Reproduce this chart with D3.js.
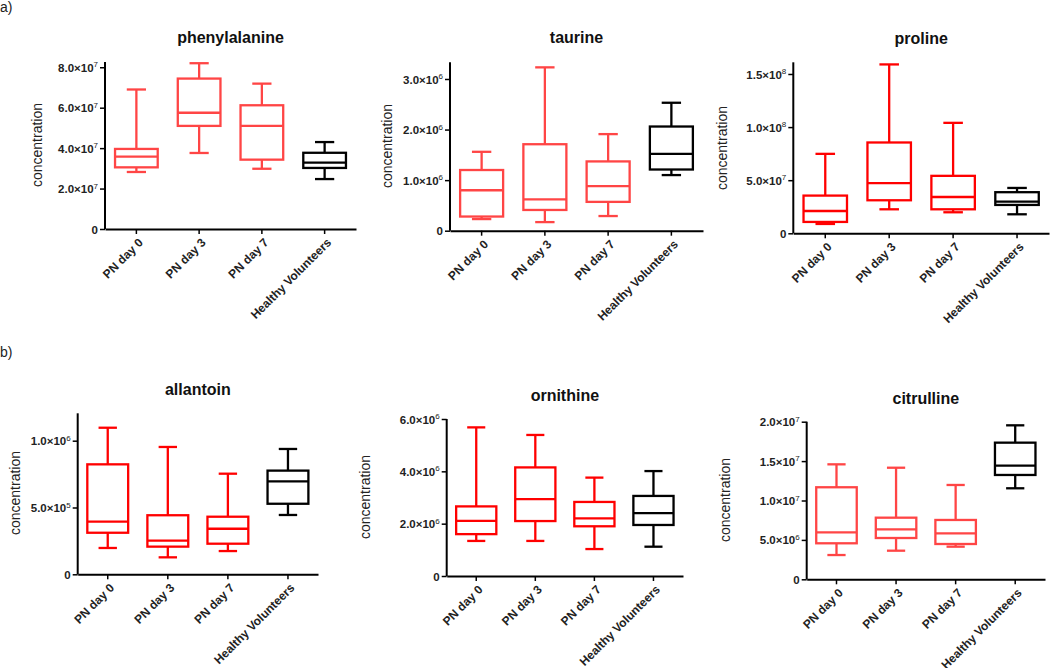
<!DOCTYPE html>
<html>
<head>
<meta charset="utf-8">
<script src="https://cdn.jsdelivr.net/npm/d3@7"></script>
<style>
  body { margin: 0; background: #fff; }
  svg text { font-family: "Liberation Sans", Arial, sans-serif; }
</style>
</head>
<body>
<svg id="chart" width="1050" height="668"></svg>
<script>
// groups on the x axis
var categories = ["PN day 0", "PN day 3", "PN day 7", "Healthy Volunteers"];

// each row: [min, q1, median, q3, max]
var phenylalanine = [
  [2.82e7, 3.05e7, 3.58e7, 3.96e7, 6.90e7],
  [3.76e7, 5.10e7, 5.75e7, 7.44e7, 8.20e7],
  [2.98e7, 3.43e7, 5.10e7, 6.12e7, 7.19e7],
  [2.47e7, 3.02e7, 3.28e7, 3.77e7, 4.30e7]
];
var taurine = [
  [0.23e6, 0.28e6, 0.80e6, 1.20e6, 1.56e6],
  [0.17e6, 0.41e6, 0.62e6, 1.71e6, 3.23e6],
  [0.29e6, 0.57e6, 0.88e6, 1.37e6, 1.91e6],
  [1.10e6, 1.21e6, 1.52e6, 2.06e6, 2.53e6]
];
var proline = [
  [0.88e7, 1.07e7, 2.10e7, 3.55e7, 7.48e7],
  [2.26e7, 3.11e7, 4.72e7, 8.55e7, 15.9e7],
  [1.98e7, 2.26e7, 3.42e7, 5.41e7, 10.4e7],
  [1.79e7, 2.67e7, 2.98e7, 3.87e7, 4.27e7]
];
var allantoin = [
  [1.97e5, 3.11e5, 3.94e5, 8.23e5, 10.97e5],
  [1.27e5, 2.07e5, 2.52e5, 4.42e5, 9.53e5],
  [1.74e5, 2.29e5, 3.41e5, 4.31e5, 7.53e5],
  [4.44e5, 5.28e5, 6.96e5, 7.76e5, 9.38e5]
];
var ornithine = [
  [1.34e6, 1.60e6, 2.11e6, 2.66e6, 5.68e6],
  [1.34e6, 2.10e6, 2.94e6, 4.15e6, 5.39e6],
  [1.03e6, 1.90e6, 2.20e6, 2.83e6, 3.76e6],
  [1.12e6, 1.95e6, 2.40e6, 3.06e6, 4.01e6]
];
var citrulline = [
  [3.08e6, 4.57e6, 5.96e6, 11.68e6, 14.59e6],
  [3.63e6, 5.24e6, 6.34e6, 7.82e6, 14.16e6],
  [4.14e6, 4.48e6, 5.84e6, 7.53e6, 11.97e6],
  [11.55e6, 13.24e6, 14.42e6, 17.34e6, 19.54e6]
];

// y tick values per panel
var phenylalanineTicks = [0, 2e7, 4e7, 6e7, 8e7];
var taurineTicks = [0, 1e6, 2e6, 3e6];
var prolineTicks = [0, 5e7, 1e8, 1.5e8];
var allantoinTicks = [0, 5e5, 1e6];
var ornithineTicks = [0, 2e6, 4e6, 6e6];
var citrullineTicks = [0, 5e6, 1e7, 1.5e7, 2e7];

var light = "#ff4545", pure = "#ff0000";

// panel layout (pixels)
var panels = [
  {title: "phenylalanine", data: phenylalanine, ticks: phenylalanineTicks, yMax: 8.26e7,
   x0: 105, x1: 356, yb: 229, yt: 62, titleY: 43, labX: 37, labY: 145, color: light},
  {title: "taurine", data: taurine, ticks: taurineTicks, yMax: 3.33e6,
   x0: 450, x1: 703, yb: 230.7, yt: 62.3, titleY: 43, labX: 387, labY: 146, color: light},
  {title: "proline", data: proline, ticks: prolineTicks, yMax: 1.61e8,
   x0: 793.3, x1: 1049, yb: 233.3, yt: 62.3, titleY: 44, labX: 722, labY: 148, color: pure},
  {title: "allantoin", data: allantoin, ticks: allantoinTicks, yMax: 1.205e6,
   x0: 77.7, x1: 318, yb: 574.3, yt: 413.3, titleY: 395, labX: 15, labY: 493, color: pure},
  {title: "ornithine", data: ornithine, ticks: ornithineTicks, yMax: 6e6,
   x0: 446.7, x1: 683, yb: 576, yt: 419, titleY: 401, labX: 365, labY: 497, color: pure},
  {title: "citrulline", data: citrulline, ticks: citrullineTicks, yMax: 2e7,
   x0: 806.7, x1: 1045, yb: 579.3, yt: 421.7, titleY: 404, labX: 725, labY: 500, color: light}
];

var svg = d3.select("#chart");

svg.append("text").attr("x", 0).attr("y", 12)
  .style("font-size", "14px").style("fill", "#222").text("a)");
svg.append("text").attr("x", 0).attr("y", 357)
  .style("font-size", "14px").style("fill", "#222").text("b)");

function tickText(sel, v) {
  if (v === 0) { sel.text("0"); return; }
  var e = Math.floor(Math.log10(v) + 1e-9);
  var m = v / Math.pow(10, e);
  sel.append("tspan").text(m.toFixed(1) + "\u00d710");
  sel.append("tspan").attr("dy", "-0.55em").style("font-size", "8px")
    .style("font-weight", "normal").text(e);
}

function drawPanel(p) {
  var g = svg.append("g");

  var x = d3.scaleBand()
    .domain(categories)
    .range([p.x0, p.x1])
    .paddingInner(0.32)
    .paddingOuter(0.16);

  var y = d3.scaleLinear()
    .domain([0, p.yMax])
    .range([p.yb, p.yt]);

  // title
  g.append("text")
    .attr("x", (p.x0 + p.x1) / 2)
    .attr("y", p.titleY)
    .attr("text-anchor", "middle")
    .style("font-size", "16px")
    .style("font-weight", "bold")
    .style("fill", "#111")
    .text(p.title);

  // y label
  g.append("text")
    .attr("transform", "translate(" + (p.labX + 5) + "," + p.labY + ") rotate(-90)")
    .attr("text-anchor", "middle")
    .style("font-size", "14px")
    .style("fill", "#222")
    .text("concentration");

  // y axis
  var yAxis = g.append("g")
    .attr("transform", "translate(" + p.x0 + ",0)")
    .call(d3.axisLeft(y).tickValues(p.ticks).tickSize(5).tickSizeOuter(0).tickFormat(""));
  yAxis.select(".domain").attr("stroke-width", 2).attr("d", "M0," + p.yb + "V" + p.yt);
  yAxis.selectAll(".tick line").attr("stroke-width", 1.5);
  yAxis.selectAll(".tick").append("text")
    .attr("x", -7).attr("dy", "0.35em")
    .attr("text-anchor", "end")
    .style("font-size", "11.5px")
    .style("font-weight", "bold")
    .style("fill", "#222")
    .each(function(d) { tickText(d3.select(this), d); });

  // x axis
  var xAxis = g.append("g")
    .attr("transform", "translate(0," + p.yb + ")")
    .call(d3.axisBottom(x).tickSize(5).tickSizeOuter(0));
  xAxis.select(".domain").attr("stroke-width", 2);
  xAxis.selectAll(".tick line").attr("stroke-width", 1.5);
  xAxis.selectAll(".tick text")
    .attr("text-anchor", "end")
    .attr("transform", "translate(-2,5) rotate(-45)")
    .attr("x", 0).attr("y", 9).attr("dy", "0.35em")
    .style("font-size", "12px")
    .style("font-weight", "bold")
    .style("fill", "#222")
    .style("font-family", "'Liberation Sans', Arial, sans-serif");

  // boxes
  var bw = x.bandwidth();
  var capW = bw * 0.45;
  var boxes = g.selectAll(".box")
    .data(p.data)
    .enter().append("g")
    .attr("class", "box")
    .attr("fill", "none")
    .attr("stroke-width", 2.3)
    .attr("stroke", function(d, i) { return i === 3 ? "#000" : p.color; })
    .attr("transform", function(d, i) { return "translate(" + (x(categories[i]) + bw / 2) + ",0)"; });

  boxes.append("line")
    .attr("x1", 0).attr("x2", 0)
    .attr("y1", function(d) { return y(d[0]); })
    .attr("y2", function(d) { return y(d[1]); });
  boxes.append("line")
    .attr("x1", 0).attr("x2", 0)
    .attr("y1", function(d) { return y(d[3]); })
    .attr("y2", function(d) { return y(d[4]); });
  boxes.append("line")
    .attr("x1", -capW / 2).attr("x2", capW / 2)
    .attr("y1", function(d) { return y(d[0]); })
    .attr("y2", function(d) { return y(d[0]); });
  boxes.append("line")
    .attr("x1", -capW / 2).attr("x2", capW / 2)
    .attr("y1", function(d) { return y(d[4]); })
    .attr("y2", function(d) { return y(d[4]); });
  boxes.append("rect")
    .attr("x", -bw / 2).attr("width", bw)
    .attr("y", function(d) { return y(d[3]); })
    .attr("height", function(d) { return y(d[1]) - y(d[3]); });
  boxes.append("line")
    .attr("x1", -bw / 2).attr("x2", bw / 2)
    .attr("y1", function(d) { return y(d[2]); })
    .attr("y2", function(d) { return y(d[2]); });
}

panels.forEach(drawPanel);
</script>
</body>
</html>
